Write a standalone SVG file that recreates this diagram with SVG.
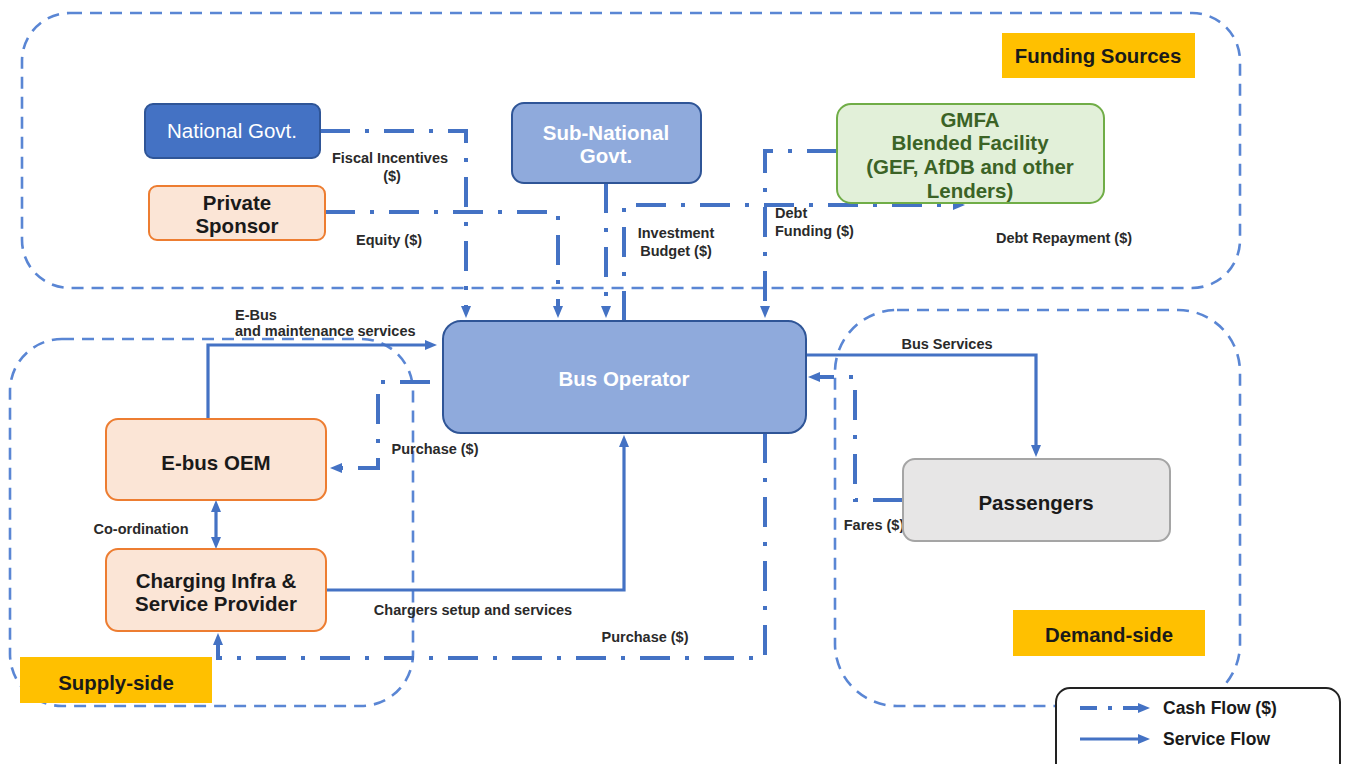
<svg xmlns="http://www.w3.org/2000/svg" width="1346" height="764" viewBox="0 0 1346 764">
  <defs>
    <style>
      .region { fill: none; stroke: #5a86d4; stroke-width: 2.6; stroke-dasharray: 12 8; }
      .tag { fill: #ffc000; }
      .tagtxt { font-family: "Liberation Sans", Arial, sans-serif; font-weight: bold; font-size: 20.4px; fill: #1a1a1a; text-anchor: middle; }
      .node-txt { font-family: "Liberation Sans", Arial, sans-serif; font-size: 20.5px; text-anchor: middle; }
      .lbl { font-family: "Liberation Sans", Arial, sans-serif; font-weight: bold; font-size: 14.5px; fill: #2a2a2a; }
      .cash { fill: none; stroke: #4472c4; stroke-width: 4; stroke-dasharray: 30 15 4 15; marker-end: url(#ah); }
      .svc { fill: none; stroke: #4472c4; stroke-width: 3.2; marker-end: url(#ah); }
      .legtxt { font-family: "Liberation Sans", Arial, sans-serif; font-weight: bold; font-size: 17.5px; fill: #1a1a1a; }
    </style>
    <marker id="ah" viewBox="0 0 12 10" refX="5" refY="5" markerWidth="12" markerHeight="10" markerUnits="userSpaceOnUse" orient="auto-start-reverse">
      <path d="M0,0 L12,5 L0,10 z" fill="#4472c4"/>
    </marker>
  </defs>

  <rect width="1346" height="764" fill="#ffffff"/>

  <!-- grouping regions -->
  <g id="regions">
    <rect class="region" x="22" y="13" width="1218" height="275" rx="48" ry="48"/>
    <rect class="region" x="10" y="339" width="403" height="367" rx="52" ry="52"/>
    <rect class="region" x="835" y="310" width="405" height="396" rx="62" ry="62"/>
  </g>

  <!-- connectors -->
  <g id="connectors">
    <!-- cash flows -->
    <path class="cash" d="M320,131 H466 V311"/>
    <path class="cash" d="M325,212 H558 V311"/>
    <path class="cash" d="M606,183 V311"/>
    <path class="cash" d="M837,151 H765 V311"/>
    <path class="cash" d="M624,321 V205 H958"/>
    <path class="cash" d="M430,382 H378 V468 H337"/>
    <path class="cash" d="M765,433 V658 H218 V640"/>
    <path class="cash" d="M903,500 H855 V377 H815"/>
    <!-- service flows -->
    <path class="svc" d="M208,419 V345 H430"/>
    <path class="svc" d="M806,355 H1036 V450"/>
    <path class="svc" d="M326,590 H624 V442"/>
    <path class="svc" d="M216,507 V542" marker-start="url(#ah)"/>
  </g>

  <!-- connector labels -->
  <g id="labels" class="lbl">
    <text x="390" y="163" text-anchor="middle">Fiscal Incentives</text>
    <text x="392" y="181" text-anchor="middle">($)</text>
    <text x="389" y="245" text-anchor="middle">Equity ($)</text>
    <text x="676" y="238" text-anchor="middle">Investment</text>
    <text x="676" y="256" text-anchor="middle">Budget ($)</text>
    <text x="775" y="218">Debt</text>
    <text x="775" y="236">Funding ($)</text>
    <text x="1064" y="243" text-anchor="middle">Debt Repayment ($)</text>
    <text x="235" y="320">E-Bus</text>
    <text x="235" y="336">and maintenance services</text>
    <text x="435" y="454" text-anchor="middle">Purchase ($)</text>
    <text x="141" y="534" text-anchor="middle">Co-ordination</text>
    <text x="473" y="615" text-anchor="middle">Chargers setup and services</text>
    <text x="645" y="642" text-anchor="middle">Purchase ($)</text>
    <text x="947" y="349" text-anchor="middle">Bus Services</text>
    <text x="874" y="530" text-anchor="middle">Fares ($)</text>
  </g>

  <!-- nodes -->
  <g id="national-govt">
    <rect x="145" y="104" width="175" height="54" rx="8" fill="#4472c4" stroke="#2f5597" stroke-width="2"/>
    <text class="node-txt" x="232" y="138" fill="#ffffff">National Govt.</text>
  </g>
  <g id="private-sponsor">
    <rect x="149" y="186" width="176" height="54" rx="8" fill="#fbe5d6" stroke="#ed7d31" stroke-width="2"/>
    <text class="node-txt" x="237" y="210" fill="#1a1a1a" font-weight="bold">Private</text>
    <text class="node-txt" x="237" y="233" fill="#1a1a1a" font-weight="bold">Sponsor</text>
  </g>
  <g id="sub-national-govt">
    <rect x="512" y="103" width="189" height="80" rx="12" fill="#8faadc" stroke="#2f5597" stroke-width="2"/>
    <text class="node-txt" x="606" y="140" fill="#ffffff" font-weight="bold">Sub-National</text>
    <text class="node-txt" x="606" y="163" fill="#ffffff" font-weight="bold">Govt.</text>
  </g>
  <g id="gmfa">
    <rect x="837" y="104" width="267" height="99" rx="14" fill="#e2f0d9" stroke="#70ad47" stroke-width="2"/>
    <text class="node-txt" x="970" y="127" fill="#3b6326" font-weight="bold">GMFA</text>
    <text class="node-txt" x="970" y="150" fill="#3b6326" font-weight="bold">Blended Facility</text>
    <text class="node-txt" x="970" y="174" fill="#3b6326" font-weight="bold">(GEF, AfDB and other</text>
    <text class="node-txt" x="970" y="198" fill="#3b6326" font-weight="bold">Lenders)</text>
  </g>
  <g id="bus-operator">
    <rect x="443" y="321" width="363" height="112" rx="18" fill="#8faadc" stroke="#2f5597" stroke-width="2"/>
    <text class="node-txt" x="624" y="386" fill="#ffffff" font-weight="bold">Bus Operator</text>
  </g>
  <g id="ebus-oem">
    <rect x="106" y="419" width="220" height="81" rx="12" fill="#fbe5d6" stroke="#ed7d31" stroke-width="2"/>
    <text class="node-txt" x="216" y="470" fill="#1a1a1a" font-weight="bold">E-bus OEM</text>
  </g>
  <g id="charging-provider">
    <rect x="106" y="549" width="220" height="82" rx="12" fill="#fbe5d6" stroke="#ed7d31" stroke-width="2"/>
    <text class="node-txt" x="216" y="588" fill="#1a1a1a" font-weight="bold">Charging Infra &amp;</text>
    <text class="node-txt" x="216" y="611" fill="#1a1a1a" font-weight="bold">Service Provider</text>
  </g>
  <g id="passengers">
    <rect x="903" y="459" width="267" height="82" rx="12" fill="#e7e6e6" stroke="#a5a5a5" stroke-width="2"/>
    <text class="node-txt" x="1036" y="510" fill="#1a1a1a" font-weight="bold">Passengers</text>
  </g>

  <!-- region tags -->
  <g id="tag-funding">
    <rect class="tag" x="1002" y="33" width="193" height="45"/>
    <text class="tagtxt" x="1098" y="63">Funding Sources</text>
  </g>
  <g id="tag-supply">
    <rect class="tag" x="20" y="657" width="192" height="46"/>
    <text class="tagtxt" x="116" y="690">Supply-side</text>
  </g>
  <g id="tag-demand">
    <rect class="tag" x="1013" y="610" width="192" height="46"/>
    <text class="tagtxt" x="1109" y="642">Demand-side</text>
  </g>

  <!-- legend -->
  <g id="legend">
    <rect x="1056" y="688" width="284" height="92" rx="14" fill="#ffffff" stroke="#222222" stroke-width="2"/>
    <path d="M1080,708 H1143" fill="none" stroke="#4472c4" stroke-width="4" stroke-dasharray="17 11 4 11" marker-end="url(#ah)"/>
    <path d="M1080,739 H1143" fill="none" stroke="#4472c4" stroke-width="3.2" marker-end="url(#ah)"/>
    <text class="legtxt" x="1163" y="714">Cash Flow ($)</text>
    <text class="legtxt" x="1163" y="745">Service Flow</text>
  </g>
</svg>
